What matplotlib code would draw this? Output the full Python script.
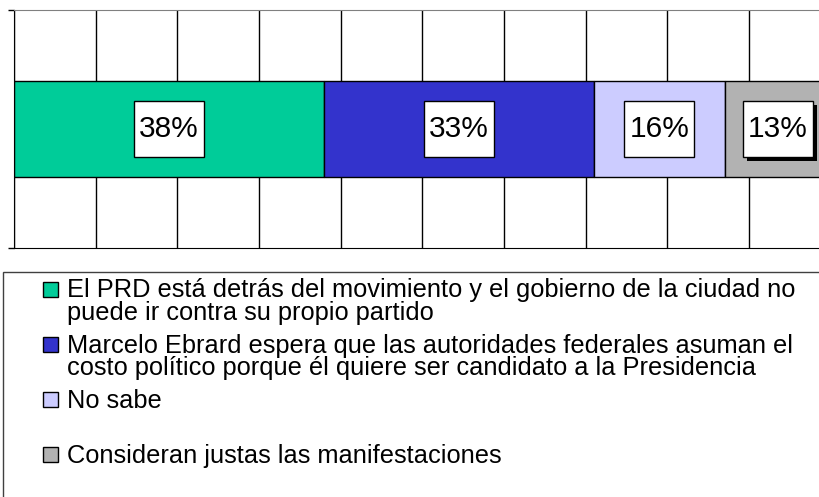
import matplotlib
matplotlib.use("Agg")
import matplotlib.pyplot as plt
import matplotlib.patheffects as pe
from matplotlib.patches import Rectangle

# survey answers, one stacked bar
categories = [
    "El PRD está detrás del movimiento y el gobierno de la ciudad no\npuede ir contra su propio partido",
    "Marcelo Ebrard espera que las autoridades federales asuman el\ncosto político porque él quiere ser candidato a la Presidencia",
    "No sabe",
    "Consideran justas las manifestaciones",
]
values = [38, 33, 16, 13]
value_labels = ["38%", "33%", "16%", "13%"]
colors = ["#00CC99", "#3333CC", "#CCCCFF", "#B2B2B2"]

plt.rcParams["font.family"] = ["Liberation Sans", "DejaVu Sans"]

W, H = 819, 497
fig = plt.figure(figsize=(W / 100, H / 100), dpi=100)
ax_w_px, ax_h_px = 816.7, 238
ax = fig.add_axes([14 / W, 1 - 248 / H, ax_w_px / W, ax_h_px / H])
ax.set_xlim(0, 100)
ax.set_ylim(-1, 1)

# label boxes are a fixed pixel size
box_w = 70 / (ax_w_px / 100)
box_h = 56 / (ax_h_px / 2)

left = 0
for i, (v, c, lab) in enumerate(zip(values, colors, value_labels)):
    ax.barh(0, v, left=left, height=0.8, color=c, edgecolor="black",
            linewidth=1, zorder=2)
    cx = left + v / 2
    box = Rectangle((cx - box_w / 2, -box_h / 2), box_w, box_h,
                    facecolor="white", edgecolor="black", lw=1, zorder=3)
    if i == len(values) - 1:
        box.set_path_effects([pe.SimplePatchShadow(offset=(3, -3), shadow_rgbFace="black", alpha=1),
                              pe.Normal()])
    ax.add_patch(box)
    ax.text(cx, 0, lab, ha="center", va="center", fontsize=21.5, zorder=4)
    left += v

ax.set_xticks(range(0, 101, 10))
ax.tick_params(axis="x", length=0, labelbottom=False)
ax.grid(axis="x", color="black", lw=1)
ax.set_axisbelow(True)
ax.set_yticks([-1, 1])
ax.tick_params(axis="y", length=4.3, width=1, labelleft=False)
ax.spines["right"].set_visible(False)
ax.spines["top"].set_color("#808080")
for s in ("left", "bottom"):
    ax.spines[s].set_color("black")

# legend drawn by hand: handle sits on the first line of each entry
frame = Rectangle((2.5 / W, -0.1), 1.1, 1 - 272 / H + 0.1, transform=fig.transFigure,
                  facecolor="none", edgecolor="#404040", lw=1)
fig.add_artist(frame)
for i, (lab, c) in enumerate(zip(categories, colors)):
    top = 282 + 55 * i
    fig.add_artist(Rectangle((43 / W, 1 - (top + 15) / H), 15 / W, 15 / H,
                             transform=fig.transFigure, facecolor=c,
                             edgecolor="black", lw=1))
    fig.text(67 / W, 1 - (top - 3.5) / H, lab, fontsize=18.3, va="top",
             ha="left", linespacing=0.91)

fig.savefig("out.png", dpi=100)
